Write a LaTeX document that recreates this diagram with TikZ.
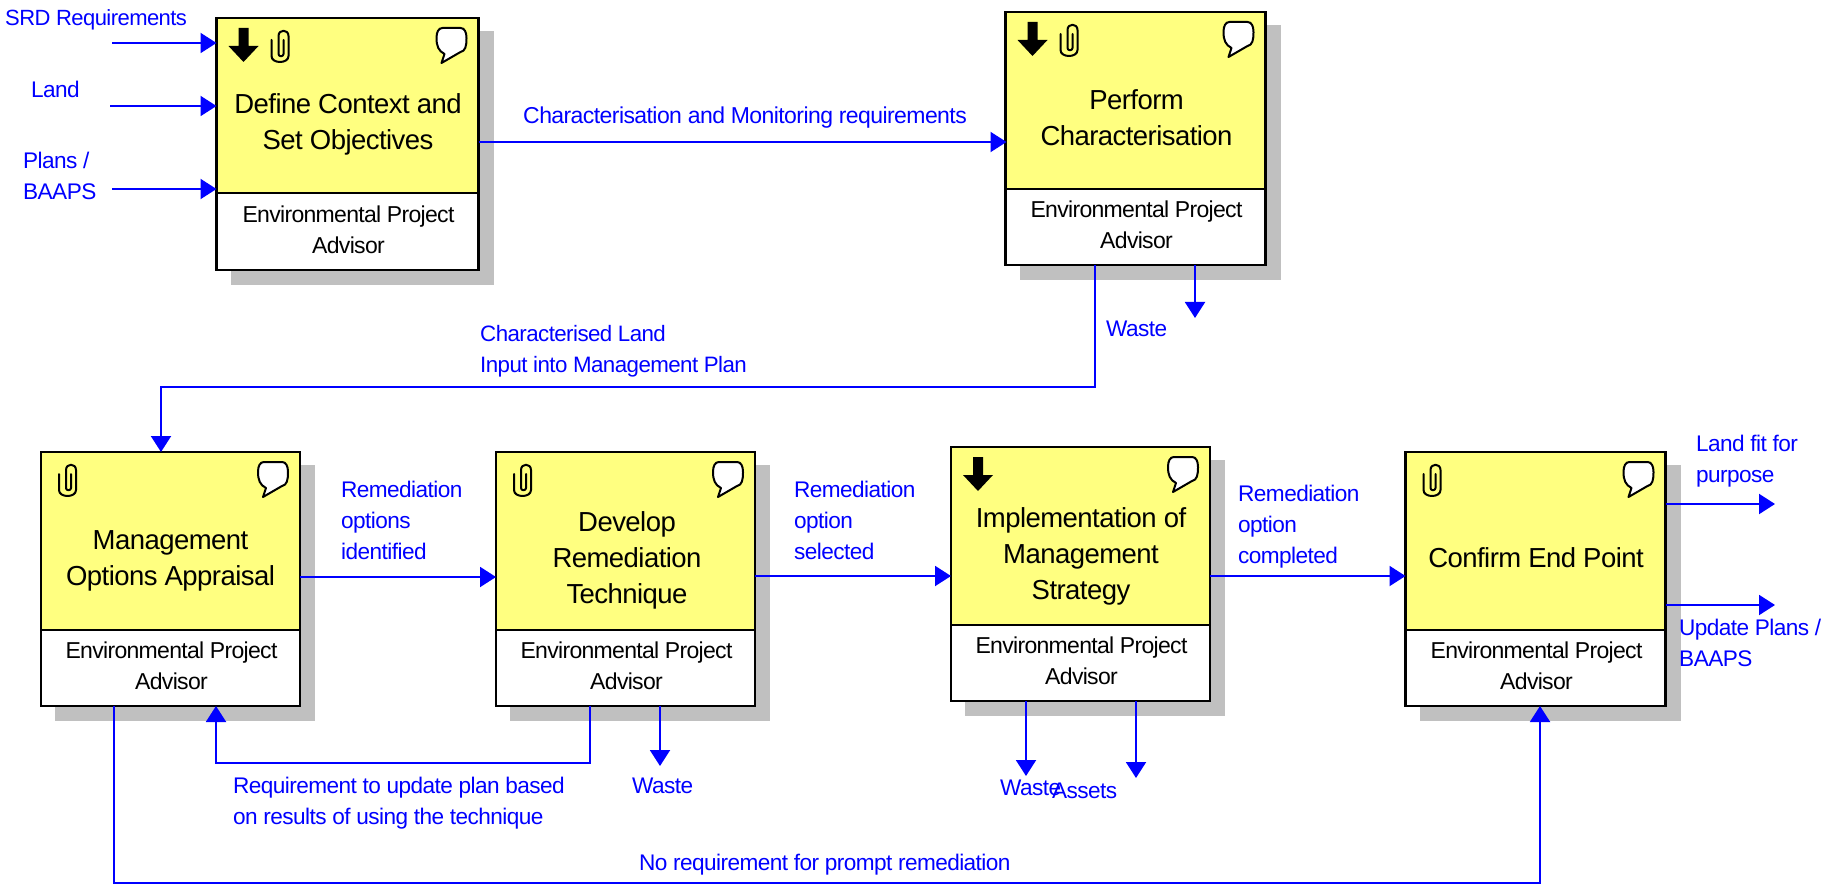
\documentclass[tikz,border=0pt]{standalone}
\usepackage{fontspec}
\setmainfont{Liberation Sans}
\newfontfamily\tightfont[LetterSpace=-2.5]{Liberation Sans}
\newfontfamily\rolefont[LetterSpace=-3]{Liberation Sans}
\newfontfamily\titlefont[LetterSpace=-2]{Liberation Sans}
\usetikzlibrary{arrows.meta}
\definecolor{hdr}{HTML}{FFFF80}
\definecolor{shd}{HTML}{C0C0C0}
\definecolor{flow}{HTML}{0000FF}
\tikzset{
  x=1pt,y=-1pt,
  hbox/.style={draw=black,line width=2.4pt,fill=hdr,outer sep=0pt,inner sep=0pt,anchor=north west},
  rbox/.style={draw=black,line width=2.4pt,fill=white,outer sep=0pt,inner sep=0pt,anchor=north west},
  rtext/.style={align=center,inner sep=0pt,font=\rolefont\fontsize{23}{31}\selectfont},
  title/.style={align=center,inner sep=0pt,font=\titlefont\fontsize{27.5}{36}\selectfont},
  lab/.style={text=flow,align=left,anchor=west,inner sep=0pt,font=\tightfont\fontsize{22.6}{31}\selectfont},
  flowline/.style={draw=flow,line width=2pt,-{Triangle[length=16pt,width=20pt]}},
}
% id, x, top, width, divider, bottom
\newcommand{\procbox}[6]{%
  \fill[shd] (#2+14,#3+13) rectangle (#2+#4+15,#6+15);
  \node[hbox,minimum width=#4pt,minimum height={#5pt-#3pt}] (h#1) at (#2,#3) {};
  \node[rbox,minimum width=#4pt,minimum height={#6pt-#5pt}] (r#1) at (#2,#5) {};
  \node[rtext,yshift=2pt,xshift=1pt] (q#1) at (r#1.center) {Environmental Project\\Advisor};
}
\newcommand{\iconarrow}[1]{%
  \begin{scope}[shift={(#1.north west)}]
    \fill[black] (22,10) -- (32,10) -- (32,28) -- (42,28) -- (27,44) -- (12,28) -- (22,28) -- cycle;
  \end{scope}}
\newcommand{\iconclip}[2]{%
  \begin{scope}[shift={(#1.north west)}]
    \draw[black,line width=2pt,line cap=round,line join=round] (#2+13,22) -- (#2+13,36) .. controls (#2+13,39) and (#2+8,39) .. (#2+8,36) -- (#2+8,18) .. controls (#2+8,11) and (#2+18,11) .. (#2+18,18) -- (#2+18,38) .. controls (#2+18,46) and (#2+1,46) .. (#2+1,38) -- (#2+1,22);
  \end{scope}}
\newcommand{\iconbubble}[1]{%
  \begin{scope}[shift={(#1.north east)}]
    \draw[black,fill=white,line width=2pt,line join=round] (-36,10) -- (-18,10) .. controls (-14,10) and (-12,14) .. (-12,20) .. controls (-12,28) and (-13,33) .. (-18,34) -- (-37,45) -- (-34,36) .. controls (-40,33) and (-42,28) .. (-42,20) .. controls (-42,14) and (-40,10) .. (-36,10) -- cycle;
  \end{scope}}
\begin{document}
\begin{tikzpicture}
\useasboundingbox (0,0) rectangle (1839,885);
\procbox{1}{216.5}{18}{262}{193}{270}
\procbox{2}{1005.5}{12}{260}{189}{265}
\procbox{3}{41}{452}{259}{630}{706}
\procbox{4}{496}{452}{259}{630}{706}
\procbox{5}{951}{447}{259}{625}{701}
\procbox{6}{1405.5}{452}{260}{630}{706}
\iconarrow{h1}\iconclip{h1}{54}\iconbubble{h1}
\iconarrow{h2}\iconclip{h2}{54}\iconbubble{h2}
\iconclip{h3}{17}\iconbubble{h3}
\iconclip{h4}{17}\iconbubble{h4}
\iconarrow{h5}\iconbubble{h5}
\iconclip{h6}{17}\iconbubble{h6}
% titles
\node[title] (t1) at (348,124.5) {Define Context and\\Set Objectives};
\node[title] (t2) at (1136.5,117.5) {Perform\\Characterisation};
\node[title] (t3) at (170.5,560.5) {Management\\Options Appraisal};
\node[title] (t4) at (627,560.5) {Develop\\Remediation\\Technique};
\node[title] (t5) at (1081,556.5) {Implementation of\\Management\\Strategy};
\node[title] (t6) at (1536,558) {Confirm End Point};
% labels
\node[lab,font=\tightfont\fontsize{22}{31}\selectfont] (l1) at (5,20) {SRD Requirements};
\node[lab] (l2) at (31,89) {Land};
\node[lab] (l3) at (23,176) {Plans /\\BAAPS};
\node[lab,font=\tightfont\fontsize{23}{31}\selectfont] (l4) at (523,118) {Characterisation and Monitoring requirements};
\node[lab,font=\tightfont\fontsize{22.3}{31}\selectfont] (l5) at (480,351) {Characterised Land\\Input into Management Plan};
\node[lab] (l6) at (1106,329) {Waste};
\node[lab] (l7) at (341,520) {Remediation\\options\\identified};
\node[lab] (l8) at (794,520) {Remediation\\option\\selected};
\node[lab] (l9) at (1238,526.5) {Remediation\\option\\completed};
\node[lab] (l10) at (1696,461.5) {Land fit for\\purpose};
\node[lab] (l11) at (1679,642.5) {Update Plans /\\BAAPS};
\node[lab] (l12) at (233,803) {Requirement to update plan based\\on results of using the technique};
\node[lab] (l13) at (632,786) {Waste};
\node[lab] (l14) at (1000,788) {Waste};
\node[lab] (l15) at (1052,791) {Assets};
\node[lab] (l16) at (639,865) {No requirement for prompt remediation};
% free ends
\coordinate (s1) at (112,43);
\coordinate (s2) at (110,106);
\coordinate (s3) at (112,189);
\coordinate (e1) at (1195,318);
\coordinate (e2) at (660,766);
\coordinate (e3) at (1026,776);
\coordinate (e4) at (1136,778);
\coordinate (e5) at (1775,504);
\coordinate (e6) at (1775,605);
% connectors
\draw[flowline] (s1) -- (s1 -| h1.west);
\draw[flowline] (s2) -- (s2 -| h1.west);
\draw[flowline] (s3) -- (s3 -| h1.west);
\draw[flowline] (h1.east |- 0,142) -- ([xshift=1pt]h2.west |- 0,142);
\draw[flowline] (r2.south -| 1095,0) -- (1095,387) -- (161,387) -- (h3.north -| 161,0);
\draw[flowline] (r2.south -| e1) -- (e1);
\draw[flowline] (h3.east |- 0,577) -- (h4.west |- 0,577);
\draw[flowline] (h4.east |- 0,576) -- (h5.west |- 0,576);
\draw[flowline] (h5.east |- 0,576) -- (h6.west |- 0,576);
\draw[flowline] (h6.east |- e5) -- (e5);
\draw[flowline] (h6.east |- e6) -- (e6);
\draw[flowline] (r4.south -| 590,0) -- (590,763) -- (216,763) -- (r3.south -| 216,0);
\draw[flowline] (r4.south -| e2) -- (e2);
\draw[flowline] (r5.south -| e3) -- (e3);
\draw[flowline] (r5.south -| e4) -- (e4);
\draw[flowline] (r3.south -| 114,0) -- (114,883) -- (1540,883) -- (r6.south -| 1540,0);
\end{tikzpicture}
\end{document}
